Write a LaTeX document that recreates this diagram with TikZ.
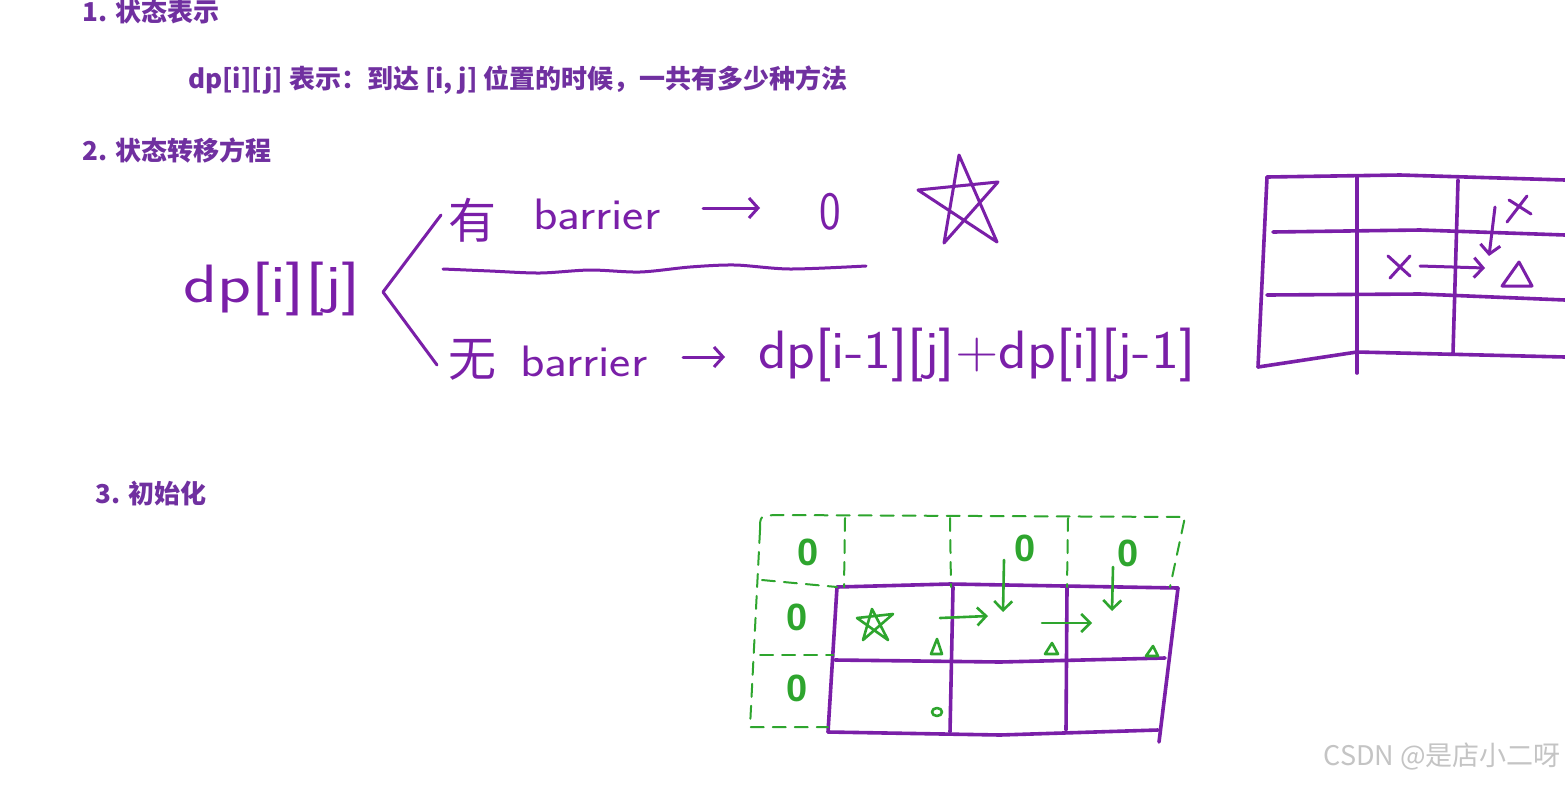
\documentclass[tikz,border=0pt]{standalone}
\usepackage{fontspec}
\usepackage{graphicx}
\newfontfamily\cjk{Noto Sans CJK SC}
\newfontfamily\gfont{Liberation Sans}
\usetikzlibrary{arrows.meta}
\definecolor{tp}{HTML}{7030A0}
\definecolor{hp}{HTML}{7A1FA8}
\definecolor{hg}{HTML}{2EA52E}
\definecolor{wm}{HTML}{C4C4C4}
\tikzset{
 title/.style={text=tp, font=\cjk\bfseries\fontsize{26}{30}\selectfont, inner sep=0pt},
 hand/.style={draw=hp, line width=3pt, line cap=round, line join=round},
 gridline/.style={draw=hp, line width=3.6pt, line cap=round, line join=round},
 hwtext/.style={text=hp, font=\sffamily\fontsize{44}{48}\selectfont, inner sep=0pt},
 hwbig/.style={text=hp, font=\sffamily\fontsize{54}{58}\selectfont, inner sep=0pt},
 hwcjk/.style={text=hp, font=\cjk\fontsize{48}{52}\selectfont, inner sep=0pt},
 ghand/.style={draw=hg, line width=2.6pt, line cap=round, line join=round},
 gdash/.style={draw=hg, line width=2pt, line cap=round, dash pattern=on 13pt off 9pt},
 gtext/.style={text=hg, font=\gfont\bfseries\fontsize{38}{42}\selectfont, inner sep=0pt},
 harrow/.style={hand, -{Straight Barb[length=9pt,width=20pt,line width=3pt]}},
 garrow/.style={ghand, -{Straight Barb[length=9pt,width=18pt,line width=2.6pt]}},
}
\begin{document}
\begin{tikzpicture}[x=1pt,y=-1pt]
\fill[white] (0,0) rectangle (1565,785);
\useasboundingbox (0,0) rectangle (1565,785);

% headings
\node[title, anchor=west] (t1) at (82,11) {1. 状态表示};
\node[title, anchor=west] (t1d) at (188,80) {dp[i][j] 表示：到达 [i, j] 位置的时候，一共有多少种方法};
\node[title, anchor=west] (t2) at (82,150) {2. 状态转移方程};
\node[title, anchor=west] (t3) at (95,494) {3. 初始化};

% handwritten equation
\node[hwbig, anchor=base west] (dp) at (183,302) {\scalebox{1.3}[1]{dp[i][j]}};
\coordinate (brA) at (441,215);
\coordinate (brM) at (383,292);
\coordinate (brB) at (437,365);
\draw[hand] (brA) -- (brM) -- (brB);

\node[hwcjk] (you) at (472,220) {有};
\node[hwtext, anchor=base west] (bar1) at (533,229) {\scalebox{1.15}[1]{barrier}};
\coordinate (a1s) at (703,208);
\coordinate (a1e) at (760,208);
\draw[harrow] (a1s) -- (a1e);
\node[hwbig, anchor=base] (zero1) at (830,229) {\scalebox{0.85}[1]{0}};
\draw[hand] plot[smooth] coordinates {(443,269) (490,271) (540,273) (590,270) (640,272) (690,267) (735,265) (790,269) (866,266)};
\draw[hand] (944,243) -- (959,155) -- (997,242) -- (918,190) -- (998,182) -- cycle;

\node[hwcjk] (wu) at (472,360) {无};
\node[hwtext, anchor=base west] (bar2) at (520,376) {\scalebox{1.15}[1]{barrier}};
\coordinate (a2s) at (683,357);
\coordinate (a2e) at (725,357);
\draw[harrow] (a2s) -- (a2e);
\node[hwbig, anchor=base west] (expr) at (758,368) {\scalebox{1.1}[1]{dp[i-1][j]+dp[i][j-1]}};

% top-right grid
\draw[gridline] (1267,177) -- (1400,175) -- (1565,180);
\draw[gridline] (1273,232) -- (1420,230) -- (1565,235);
\draw[gridline] (1267,295) -- (1420,294) -- (1565,300);
\draw[gridline] (1258,367) -- (1357,352) -- (1565,357);
\draw[gridline] (1267,177) -- (1258,367);
\draw[gridline] (1357,177) -- (1357,373);
\draw[gridline] (1458,180) -- (1453,353);
\draw[hand] (1509,200) -- (1531,214) (1527,196) -- (1507,222);
\draw[hand] (1388,256) -- (1410,276) (1410,256) -- (1390,278);
\coordinate (xr1) at (1420,266);
\coordinate (xr2) at (1485,268);
\draw[harrow] (xr1) -- (xr2);
\coordinate (xd1) at (1495,207);
\coordinate (xd2) at (1489,256);
\draw[harrow] (xd1) -- (xd2);
\draw[hand] (1502,286) -- (1519,262) -- (1532,286) -- cycle;

% bottom grid (purple)
\draw[gridline] (837,587) -- (950,584) -- (1178,588);
\draw[gridline] (835,660) -- (1000,662) -- (1165,658);
\draw[gridline] (828,732) -- (1000,735) -- (1158,730);
\draw[gridline] (837,587) -- (828,732);
\draw[gridline] (953,587) -- (950,732);
\draw[gridline] (1067,587) -- (1066,730);
\draw[gridline] (1178,588) -- (1159,742);

% green dashed boundary
\draw[gdash] (760,530) .. controls (760,516) .. (775,515) -- (1185,517) -- (1170,587);
\draw[gdash] (760,530) -- (750,727) -- (828,727);
\draw[gdash] (845,518) -- (844,587);
\draw[gdash] (950,518) -- (951,587);
\draw[gdash] (1068,518) -- (1067,587);
\draw[gdash] (762,580) -- (837,587);
\draw[gdash] (760,655) -- (833,655);

% green marks
\node[gtext] (g00) at (808,552) {0};
\node[gtext] (g02) at (1025,548) {0};
\node[gtext] (g03) at (1128,553) {0};
\node[gtext] (g10) at (797,617) {0};
\node[gtext] (g20) at (797,688) {0};
\draw[ghand] (863,640) -- (872,609) -- (888,640) -- (857,618) -- (893,614) -- cycle;
\coordinate (gr1a) at (940,618);
\coordinate (gr1b) at (988,616);
\draw[garrow] (gr1a) -- (gr1b);
\coordinate (gd1a) at (1004,560);
\coordinate (gd1b) at (1003,612);
\draw[garrow] (gd1a) -- (gd1b);
\coordinate (gr2a) at (1042,623);
\coordinate (gr2b) at (1092,623);
\draw[garrow] (gr2a) -- (gr2b);
\coordinate (gd2a) at (1113,567);
\coordinate (gd2b) at (1112,611);
\draw[garrow] (gd2a) -- (gd2b);
\draw[ghand] (931,654) -- (937,639) -- (942,654) -- cycle;
\draw[ghand] (1045,654) -- (1052,643) -- (1058,654) -- cycle;
\draw[ghand] (1146,656) -- (1153,646) -- (1158,656) -- cycle;
\draw[ghand] (937,712) ellipse (5 and 4);

% watermark
\node[text=wm, font=\cjk\fontsize{27}{30}\selectfont, anchor=east, inner sep=0pt] (wmk) at (1561,757) {CSDN @是店小二呀};
\end{tikzpicture}
\end{document}
